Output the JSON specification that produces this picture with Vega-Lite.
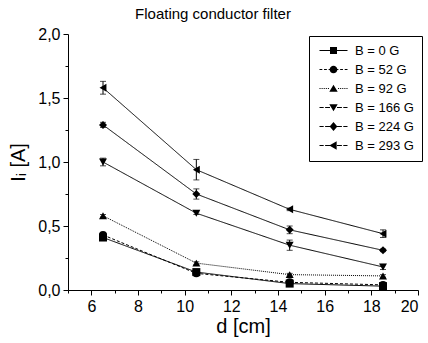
{
  "$schema": "https://vega.github.io/schema/vega-lite/v6.json",
  "width": 350,
  "height": 256,
  "autosize": "none",
  "padding": {"left": 68, "top": 34, "right": 10, "bottom": 53},
  "background": "white",
  "title": {"text": "Floating conductor filter", "fontSize": 15, "fontWeight": "normal", "font": "Liberation Sans", "color": "black", "anchor": "middle", "dx": -30, "offset": 4},
  "config": {
    "view": {"stroke": null},
    "font": "Liberation Sans",
    "axis": {"grid": false, "domainColor": "black", "tickColor": "black", "labelColor": "black", "titleColor": "black", "labelFont": "Liberation Sans", "titleFont": "Liberation Sans", "labelFontSize": 16, "titleFontSize": 20, "titleFontWeight": "normal"}
  },
  "data": {"values": [
    {"B": "B = 0 G", "d": 6.5, "I": 0.41, "lo": 0.40, "hi": 0.42},
    {"B": "B = 0 G", "d": 10.5, "I": 0.14, "lo": 0.13, "hi": 0.15},
    {"B": "B = 0 G", "d": 14.5, "I": 0.05, "lo": 0.045, "hi": 0.055},
    {"B": "B = 0 G", "d": 18.5, "I": 0.03, "lo": 0.025, "hi": 0.035},
    {"B": "B = 52 G", "d": 6.5, "I": 0.43, "lo": 0.42, "hi": 0.44},
    {"B": "B = 52 G", "d": 10.5, "I": 0.13, "lo": 0.12, "hi": 0.14},
    {"B": "B = 52 G", "d": 14.5, "I": 0.06, "lo": 0.05, "hi": 0.07},
    {"B": "B = 52 G", "d": 18.5, "I": 0.04, "lo": 0.03, "hi": 0.05},
    {"B": "B = 92 G", "d": 6.5, "I": 0.58, "lo": 0.57, "hi": 0.59},
    {"B": "B = 92 G", "d": 10.5, "I": 0.21, "lo": 0.20, "hi": 0.22},
    {"B": "B = 92 G", "d": 14.5, "I": 0.12, "lo": 0.11, "hi": 0.13},
    {"B": "B = 92 G", "d": 18.5, "I": 0.11, "lo": 0.10, "hi": 0.12},
    {"B": "B = 166 G", "d": 6.5, "I": 1.00, "lo": 0.97, "hi": 1.03},
    {"B": "B = 166 G", "d": 10.5, "I": 0.60, "lo": 0.59, "hi": 0.61},
    {"B": "B = 166 G", "d": 14.5, "I": 0.35, "lo": 0.31, "hi": 0.39},
    {"B": "B = 166 G", "d": 18.5, "I": 0.18, "lo": 0.16, "hi": 0.20},
    {"B": "B = 224 G", "d": 6.5, "I": 1.29, "lo": 1.27, "hi": 1.31},
    {"B": "B = 224 G", "d": 10.5, "I": 0.75, "lo": 0.71, "hi": 0.79},
    {"B": "B = 224 G", "d": 14.5, "I": 0.47, "lo": 0.44, "hi": 0.50},
    {"B": "B = 224 G", "d": 18.5, "I": 0.31, "lo": 0.30, "hi": 0.32},
    {"B": "B = 293 G", "d": 6.5, "I": 1.58, "lo": 1.53, "hi": 1.63},
    {"B": "B = 293 G", "d": 10.5, "I": 0.94, "lo": 0.86, "hi": 1.02},
    {"B": "B = 293 G", "d": 14.5, "I": 0.63, "lo": 0.62, "hi": 0.64},
    {"B": "B = 293 G", "d": 18.5, "I": 0.44, "lo": 0.41, "hi": 0.47}
  ]},
  "encoding": {
    "x": {"field": "d", "type": "quantitative", "scale": {"domain": [5, 20], "nice": false, "zero": false},
      "axis": {"title": "d [cm]", "values": [5,6,7,8,9,10,11,12,13,14,15,16,17,18,19,20], "labelExpr": "datum.value % 2 === 0 ? datum.label : ''", "tickSize": {"condition": {"test": "datum.value % 2 === 0", "value": 5}, "value": 3}, "labelPadding": 3, "titlePadding": 2}},
    "y": {"field": "I", "type": "quantitative", "scale": {"domain": [0, 2], "nice": false},
      "axis": {"title": "Iᵢ [A]", "values": [0, 0.25, 0.5, 0.75, 1, 1.25, 1.5, 1.75, 2], "labelExpr": "(datum.value * 2) % 1 === 0 ? replace(format(datum.value, '.1f'), '.', ',') : ''", "tickSize": {"condition": {"test": "(datum.value * 2) % 1 === 0", "value": 5}, "value": 3}, "labelPadding": 3, "titlePadding": 9}}
  },
  "resolve": {"scale": {"shape": "independent"}, "legend": {"shape": "independent"}},
  "layer": [
    {
      "mark": {"type": "line", "color": "black", "strokeWidth": 1},
      "encoding": {
        "detail": {"field": "B"},
        "strokeDash": {"field": "B", "type": "nominal",
          "scale": {"domain": ["B = 0 G", "B = 52 G", "B = 92 G", "B = 166 G", "B = 224 G", "B = 293 G"], "range": [[1, 0], [3, 2], [1, 1], [1, 0], [1, 0], [1, 0]]},
          "legend": null}
      }
    },
    {
      "mark": {"type": "errorbar", "ticks": {"size": 6}, "color": "black", "thickness": 1},
      "encoding": {
        "y": {"field": "lo", "type": "quantitative"},
        "y2": {"field": "hi"},
        "detail": {"field": "B"}
      }
    },
    {
      "mark": {"type": "point", "filled": true, "color": "black", "opacity": 1, "size": 64},
      "encoding": {
        "shape": {"field": "B", "type": "nominal",
          "scale": {"domain": ["B = 0 G", "B = 52 G", "B = 92 G", "B = 166 G", "B = 224 G", "B = 293 G"], "range": ["square", "circle", "triangle-up", "triangle-down", "diamond", "triangle-left"]},
          "legend": null}
      }
    },
    {
      "mark": {"type": "point", "filled": true, "color": "black", "opacity": 0, "size": 49},
      "encoding": {
        "shape": {"field": "B", "type": "nominal",
          "scale": {"domain": ["B = 0 G", "B = 52 G", "B = 92 G", "B = 166 G", "B = 224 G", "B = 293 G"], "range": [
            "M-4,-0.15H4V0.15H-4ZM-1,-1H1V1H-1Z",
            "M-4,-0.14H-3.2V0.14H-4ZM-2.7,-0.14H-1.9V0.14H-2.7ZM-1.4,-0.14H-0.6V0.14H-1.4ZM0.6,-0.14H1.4V0.14H0.6ZM1.9,-0.14H2.7V0.14H1.9ZM3.2,-0.14H4V0.14H3.2ZM1.1,0A1.1,1.1,0,1,1,-1.1,0A1.1,1.1,0,1,1,1.1,0Z",
            "M-4,-0.14H-3.7V0.14H-4ZM-3.4,-0.14H-3.1V0.14H-3.4ZM-2.8,-0.14H-2.5V0.14H-2.8ZM-2.2,-0.14H-1.9V0.14H-2.2ZM-1.6,-0.14H-1.3V0.14H-1.6ZM1.3,-0.14H1.6V0.14H1.3ZM1.9,-0.14H2.2V0.14H1.9ZM2.5,-0.14H2.8V0.14H2.5ZM3.1,-0.14H3.4V0.14H3.1ZM3.7,-0.14H4V0.14H3.7ZM0,-1.1L1.2,0.9H-1.2Z",
            "M-4,-0.14H-2.8V0.14H-4ZM-2.4,-0.14H-1V0.14H-2.4ZM1,-0.14H2.4V0.14H1ZM2.8,-0.14H4V0.14H2.8ZM0,1.1L-1.2,-0.9H1.2Z",
            "M-4,-0.14H-2.8V0.14H-4ZM-2.4,-0.14H-1V0.14H-2.4ZM1,-0.14H2.4V0.14H1ZM2.8,-0.14H4V0.14H2.8ZM0,-1.3L1.1,0L0,1.3L-1.1,0Z",
            "M-4,-0.14H-2.8V0.14H-4ZM-2.4,-0.14H-1V0.14H-2.4ZM1,-0.14H2.4V0.14H1ZM2.8,-0.14H4V0.14H2.8ZM-1.2,0L0.9,-1.2V1.2Z"
          ]},
          "legend": {"title": null, "orient": "none", "legendX": 241, "legendY": 2, "strokeColor": "black", "padding": 8, "fillColor": "white",
            "labelFontSize": 13, "labelFont": "Liberation Sans", "labelColor": "black", "rowPadding": 5, "symbolSize": 49, "symbolOffset": 10, "labelOffset": 15,
            "symbolOpacity": 1, "symbolFillColor": "black", "symbolStrokeWidth": 0}}
      }
    }
  ]
}
